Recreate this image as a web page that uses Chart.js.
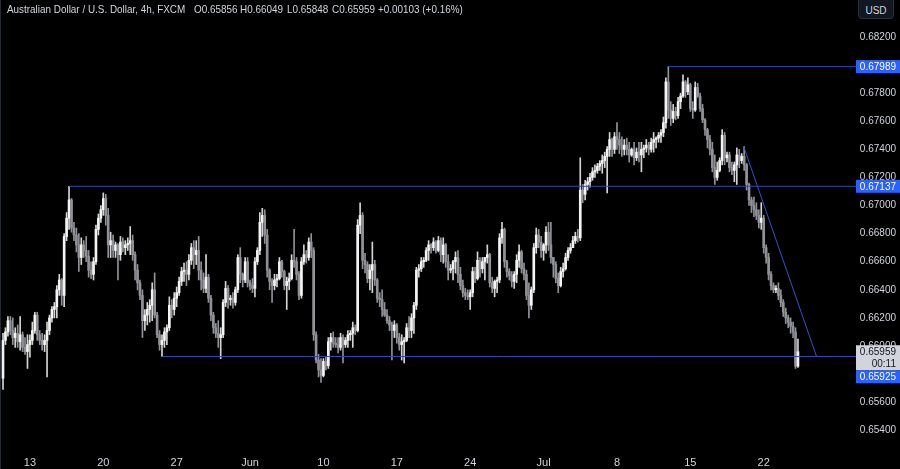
<!DOCTYPE html>
<html>
<head>
<meta charset="utf-8">
<script src="https://cdn.jsdelivr.net/npm/chart.js@4.4.1/dist/chart.umd.min.js"></script>
<style>
  html, body { margin: 0; padding: 0; background: #000; }
  #wrap { position: relative; width: 900px; height: 469px; overflow: hidden; background: #000; }
  #chart { position: absolute; left: 0; top: 0; }
  .hdr { position: absolute; top: 3px; font: 11px 'Liberation Sans', Arial, sans-serif; color: #d1d4dc;
         white-space: nowrap; transform-origin: 0 0; transform: scaleX(0.9); }
  #usd { position: absolute; left: 858px; top: -4px; width: 36px; height: 23px; box-sizing: border-box;
         border: 1px solid #2a2e39; border-radius: 4px; background: #131722; color: #d1d4dc;
         font: 10px 'Liberation Sans', Arial, sans-serif; text-align: center; line-height: 27px; }
  #edge { position: absolute; left: 0; top: 0; width: 1px; height: 469px; background: #262a33; }
</style>
</head>
<body>
<div id="wrap">
  <canvas id="chart" width="900" height="469"></canvas>
  <div id="edge"></div>
  <div class="hdr" style="left:7px">Australian Dollar / U.S. Dollar, 4h, FXCM</div>
  <div class="hdr" style="left:194px">O0.65856</div>
  <div class="hdr" style="left:240px">H0.66049</div>
  <div class="hdr" style="left:287px">L0.65848</div>
  <div class="hdr" style="left:332px">C0.65959</div>
  <div class="hdr" style="left:378px">+0.00103 (+0.16%)</div>
  <div id="usd">USD</div>
</div>
<script>
// AUD/USD 4h candles, index 0 = first visible bar (May 9)
const opens = [
  0.6577,0.6604,0.6610,0.6618,0.6611,0.6606,0.6609,0.6603,0.6608,0.6599,
  0.6596,0.6601,0.6604,0.6611,0.6622,0.6608,0.6604,0.6601,0.6604,0.6611,
  0.6620,0.6626,0.6628,0.6640,0.6647,0.6636,0.6678,0.6691,0.6704,0.6684,
  0.6679,0.6672,0.6663,0.6672,0.6668,0.6664,0.6654,0.6651,0.6660,0.6683,
  0.6691,0.6697,0.6705,0.6693,0.6672,0.6675,0.6668,0.6672,0.6665,0.6674,
  0.6670,0.6672,0.6673,0.6675,0.6665,0.6654,0.6645,0.6636,0.6618,0.6622,
  0.6626,0.6629,0.6640,0.6622,0.6608,0.6601,0.6604,0.6610,0.6613,0.6629,
  0.6626,0.6634,0.6638,0.6646,0.6653,0.6654,0.6651,0.6661,0.6670,0.6665,
  0.6668,0.6654,0.6647,0.6641,0.6649,0.6634,0.6622,0.6613,0.6609,0.6606,
  0.6608,0.6631,0.6641,0.6633,0.6634,0.6631,0.6640,0.6663,0.6651,0.6647,
  0.6660,0.6645,0.6643,0.6641,0.6660,0.6668,0.6688,0.6693,0.6679,0.6654,
  0.6646,0.6643,0.6647,0.6648,0.6660,0.6653,0.6643,0.6646,0.6648,0.6661,
  0.6660,0.6651,0.6636,0.6660,0.6665,0.6663,0.6674,0.6668,0.6608,0.6590,
  0.6583,0.6579,0.6589,0.6586,0.6603,0.6606,0.6602,0.6601,0.6599,0.6606,
  0.6601,0.6604,0.6608,0.6609,0.6613,0.6611,0.6686,0.6693,0.6661,0.6658,
  0.6648,0.6654,0.6658,0.6647,0.6634,0.6633,0.6626,0.6622,0.6618,0.6615,
  0.6611,0.6615,0.6606,0.6601,0.6603,0.6604,0.6613,0.6611,0.6620,0.6629,
  0.6654,0.6655,0.6660,0.6661,0.6668,0.6672,0.6670,0.6674,0.6668,0.6675,
  0.6665,0.6672,0.6660,0.6654,0.6655,0.6660,0.6663,0.6651,0.6643,0.6638,
  0.6636,0.6635,0.6638,0.6653,0.6648,0.6661,0.6655,0.6660,0.6663,0.6665,
  0.6645,0.6641,0.6646,0.6647,0.6677,0.6683,0.6660,0.6653,0.6650,0.6646,
  0.6651,0.6661,0.6667,0.6655,0.6651,0.6636,0.6629,0.6640,0.6670,0.6679,
  0.6674,0.6668,0.6672,0.6681,0.6672,0.6663,0.6658,0.6648,0.6643,0.6653,
  0.6655,0.6663,0.6668,0.6670,0.6675,0.6678,0.6677,0.6711,0.6708,0.6715,
  0.6717,0.6720,0.6724,0.6725,0.6728,0.6730,0.6732,0.6735,0.6740,0.6747,
  0.6740,0.6749,0.6747,0.6743,0.6740,0.6743,0.6740,0.6736,0.6740,0.6734,
  0.6738,0.6736,0.6740,0.6741,0.6743,0.6740,0.6745,0.6747,0.6748,0.6750,
  0.6752,0.6759,0.6788,0.6768,0.6762,0.6767,0.6764,0.6774,0.6778,0.6788,
  0.6781,0.6786,0.6769,0.6768,0.6784,0.6778,0.6769,0.6761,0.6754,0.6747,
  0.6740,0.6727,0.6720,0.6725,0.6732,0.6750,0.6734,0.6736,0.6727,0.6725,
  0.6729,0.6736,0.6732,0.6735,0.6729,0.6715,0.6704,0.6700,0.6697,0.6693,
  0.6688,0.6691,0.6670,0.6663,0.6651,0.6643,0.6640,0.6641,0.6636,0.6631,
  0.6624,0.6620,0.6617,0.6614,0.6610,0.65856
];
const highs = [
  0.6609,0.6613,0.6621,0.6621,0.6620,0.6613,0.6615,0.6621,0.6610,0.6606,
  0.6608,0.6608,0.6617,0.6624,0.6624,0.6611,0.6609,0.6608,0.6617,0.6622,
  0.6628,0.6631,0.6643,0.6651,0.6648,0.6680,0.6695,0.67137,0.6705,0.6688,
  0.6684,0.6680,0.6677,0.6675,0.6678,0.6668,0.6660,0.6663,0.6686,0.6694,
  0.6700,0.6709,0.6708,0.6698,0.6681,0.6679,0.6674,0.6673,0.6678,0.6677,
  0.6675,0.6677,0.6685,0.6679,0.6667,0.6658,0.6647,0.6640,0.6626,0.6631,
  0.6633,0.6645,0.6652,0.6624,0.6611,0.6608,0.6613,0.6615,0.6635,0.6633,
  0.6638,0.6642,0.6649,0.6656,0.6659,0.6660,0.6665,0.6673,0.6675,0.6675,
  0.6678,0.6660,0.6652,0.6665,0.6651,0.6636,0.6624,0.6616,0.6618,0.6613,
  0.6633,0.6646,0.6643,0.6636,0.6638,0.6642,0.6665,0.6670,0.6652,0.6663,
  0.6663,0.6647,0.6648,0.6663,0.6670,0.6695,0.6698,0.6697,0.6683,0.6655,
  0.6648,0.6651,0.6651,0.6663,0.6661,0.6654,0.6649,0.6652,0.6665,0.6683,
  0.6663,0.6653,0.6663,0.6672,0.6668,0.6677,0.6680,0.6670,0.6610,0.6594,
  0.6591,0.6591,0.6592,0.6606,0.6609,0.6610,0.6606,0.6606,0.6609,0.6608,
  0.6606,0.6611,0.6611,0.6617,0.6615,0.6690,0.6702,0.6695,0.6666,0.6660,
  0.6658,0.6674,0.6661,0.6648,0.6638,0.6640,0.6631,0.6626,0.6621,0.6617,
  0.6618,0.6616,0.6609,0.6608,0.6606,0.6616,0.6621,0.6623,0.6631,0.6656,
  0.6658,0.6663,0.6663,0.6670,0.6675,0.6673,0.6677,0.6675,0.6678,0.6677,
  0.6677,0.6673,0.6665,0.6658,0.6661,0.6667,0.6668,0.6656,0.6647,0.6641,
  0.6640,0.6640,0.6656,0.6656,0.6667,0.6663,0.6663,0.6663,0.6672,0.6666,
  0.6649,0.6647,0.6649,0.6680,0.6688,0.6684,0.6661,0.6655,0.6653,0.6653,
  0.6665,0.6672,0.6668,0.6659,0.6654,0.6645,0.6642,0.6673,0.6684,0.6683,
  0.6678,0.6673,0.6685,0.6688,0.6688,0.6663,0.6660,0.6652,0.6656,0.6659,
  0.6666,0.6670,0.6673,0.6678,0.6681,0.6683,0.6734,0.6715,0.6718,0.6720,
  0.6723,0.6727,0.6729,0.6730,0.6732,0.6736,0.6738,0.6742,0.6752,0.6748,
  0.6752,0.6759,0.6752,0.6749,0.6747,0.6748,0.6745,0.6741,0.6745,0.6741,
  0.6745,0.6745,0.6743,0.6747,0.6745,0.6748,0.6752,0.6749,0.6752,0.6754,
  0.6763,0.6791,0.67989,0.6774,0.6772,0.6770,0.6777,0.6780,0.6793,0.6789,
  0.6791,0.6787,0.6774,0.6788,0.6787,0.6780,0.6772,0.6762,0.6755,0.6750,
  0.6745,0.6736,0.6731,0.6734,0.6754,0.6752,0.6738,0.6738,0.6731,0.6731,
  0.6741,0.6740,0.6737,0.6742,0.6730,0.6716,0.6706,0.6706,0.6702,0.6697,
  0.6702,0.6693,0.6672,0.6666,0.6653,0.6645,0.6643,0.6645,0.6640,0.6633,
  0.6627,0.6622,0.6620,0.6617,0.6613,0.66049
];
const lows = [
  0.6569,0.6601,0.6607,0.6608,0.6601,0.6599,0.6599,0.6597,0.6596,0.6594,
  0.6584,0.6592,0.6601,0.6609,0.6604,0.6601,0.6597,0.6596,0.6578,0.6608,
  0.6617,0.6620,0.6620,0.6636,0.6629,0.6628,0.6675,0.6683,0.6681,0.6675,
  0.6667,0.6653,0.6658,0.6663,0.6660,0.6649,0.6648,0.6647,0.6658,0.6679,
  0.6688,0.6693,0.6686,0.6663,0.6663,0.6663,0.6663,0.6647,0.6661,0.6667,
  0.6665,0.6668,0.6665,0.6661,0.6647,0.6640,0.6633,0.6606,0.6611,0.6615,
  0.6617,0.6618,0.6620,0.6606,0.6597,0.65925,0.6599,0.6601,0.6611,0.6620,
  0.6622,0.6628,0.6636,0.6643,0.6646,0.6643,0.6647,0.6658,0.6655,0.6658,
  0.6647,0.6640,0.6638,0.6638,0.6631,0.6618,0.6609,0.6606,0.6599,0.6591,
  0.6606,0.6628,0.6627,0.6629,0.6627,0.6629,0.6638,0.6645,0.6642,0.6645,
  0.6642,0.6640,0.6638,0.6635,0.6658,0.6665,0.6678,0.6673,0.6649,0.6640,
  0.6631,0.6640,0.6642,0.6647,0.6649,0.6640,0.6626,0.6640,0.6647,0.6656,
  0.6647,0.6633,0.6634,0.6658,0.6659,0.6661,0.6663,0.6604,0.6588,0.6578,
  0.6574,0.6578,0.6583,0.6584,0.6597,0.6599,0.6599,0.6595,0.6597,0.6588,
  0.6599,0.6599,0.6604,0.6599,0.6608,0.6610,0.6680,0.6655,0.6652,0.6645,
  0.6640,0.6638,0.6643,0.6631,0.6628,0.6621,0.6621,0.6616,0.6611,0.6590,
  0.6606,0.6602,0.6597,0.6590,0.6588,0.6603,0.6606,0.6606,0.6609,0.6626,
  0.6649,0.6653,0.6656,0.6660,0.6661,0.6666,0.6668,0.6666,0.6667,0.6660,
  0.6659,0.6656,0.6647,0.6652,0.6647,0.6652,0.6645,0.6640,0.6635,0.6633,
  0.6633,0.6626,0.6635,0.6645,0.6647,0.6649,0.6652,0.6647,0.6659,0.6642,
  0.6638,0.6635,0.6638,0.6645,0.6673,0.6656,0.6649,0.6647,0.6642,0.6641,
  0.6645,0.6656,0.6652,0.6647,0.6633,0.6620,0.6626,0.6638,0.6666,0.6670,
  0.6663,0.6661,0.6666,0.6668,0.6659,0.6649,0.6645,0.6638,0.6642,0.6649,
  0.6654,0.6661,0.6666,0.6670,0.6673,0.6674,0.6675,0.6702,0.6704,0.6711,
  0.6713,0.6718,0.6720,0.6723,0.6725,0.6723,0.6727,0.6709,0.6735,0.6735,
  0.6737,0.6740,0.6737,0.6735,0.6736,0.6736,0.6731,0.6735,0.6729,0.6732,
  0.6731,0.6724,0.6734,0.6738,0.6736,0.6738,0.6738,0.6741,0.6745,0.6745,
  0.6749,0.6755,0.6762,0.6757,0.6759,0.6761,0.6762,0.6769,0.6777,0.6777,
  0.6779,0.6767,0.6762,0.6767,0.6777,0.6767,0.6759,0.6750,0.6741,0.6736,
  0.6724,0.6715,0.6718,0.6724,0.6729,0.6729,0.6731,0.6724,0.6722,0.6717,
  0.6715,0.6727,0.6730,0.6725,0.6711,0.6700,0.6695,0.6692,0.6690,0.6684,
  0.6683,0.6666,0.6659,0.6647,0.6640,0.6638,0.6638,0.6633,0.6628,0.6621,
  0.6616,0.6613,0.6609,0.6606,0.6584,0.65848
];
const closes = [
  0.6604,0.6610,0.6618,0.6611,0.6606,0.6609,0.6603,0.6608,0.6599,0.6596,
  0.6601,0.6604,0.6611,0.6622,0.6608,0.6604,0.6601,0.6604,0.6611,0.6620,
  0.6626,0.6628,0.6640,0.6647,0.6636,0.6678,0.6691,0.6704,0.6684,0.6679,
  0.6672,0.6663,0.6672,0.6668,0.6664,0.6654,0.6651,0.6660,0.6683,0.6691,
  0.6697,0.6705,0.6693,0.6672,0.6675,0.6668,0.6672,0.6665,0.6674,0.6670,
  0.6672,0.6673,0.6675,0.6665,0.6654,0.6645,0.6636,0.6618,0.6622,0.6626,
  0.6629,0.6640,0.6622,0.6608,0.6601,0.6604,0.6610,0.6613,0.6629,0.6626,
  0.6634,0.6638,0.6646,0.6653,0.6654,0.6651,0.6661,0.6670,0.6665,0.6668,
  0.6654,0.6647,0.6641,0.6649,0.6634,0.6622,0.6613,0.6609,0.6606,0.6608,
  0.6631,0.6641,0.6633,0.6634,0.6631,0.6640,0.6663,0.6651,0.6647,0.6660,
  0.6645,0.6643,0.6641,0.6660,0.6668,0.6688,0.6693,0.6679,0.6654,0.6646,
  0.6643,0.6647,0.6648,0.6660,0.6653,0.6643,0.6646,0.6648,0.6661,0.6660,
  0.6651,0.6636,0.6660,0.6665,0.6663,0.6674,0.6668,0.6608,0.6590,0.6583,
  0.6579,0.6589,0.6586,0.6603,0.6606,0.6602,0.6601,0.6599,0.6606,0.6601,
  0.6604,0.6608,0.6609,0.6613,0.6611,0.6686,0.6693,0.6661,0.6658,0.6648,
  0.6654,0.6658,0.6647,0.6634,0.6633,0.6626,0.6622,0.6618,0.6615,0.6611,
  0.6615,0.6606,0.6601,0.6603,0.6604,0.6613,0.6611,0.6620,0.6629,0.6654,
  0.6655,0.6660,0.6661,0.6668,0.6672,0.6670,0.6674,0.6668,0.6675,0.6665,
  0.6672,0.6660,0.6654,0.6655,0.6660,0.6663,0.6651,0.6643,0.6638,0.6636,
  0.6635,0.6638,0.6653,0.6648,0.6661,0.6655,0.6660,0.6663,0.6665,0.6645,
  0.6641,0.6646,0.6647,0.6677,0.6683,0.6660,0.6653,0.6650,0.6646,0.6651,
  0.6661,0.6667,0.6655,0.6651,0.6636,0.6629,0.6640,0.6670,0.6679,0.6674,
  0.6668,0.6672,0.6681,0.6672,0.6663,0.6658,0.6648,0.6643,0.6653,0.6655,
  0.6663,0.6668,0.6670,0.6675,0.6678,0.6677,0.6711,0.6708,0.6715,0.6717,
  0.6720,0.6724,0.6725,0.6728,0.6730,0.6732,0.6735,0.6740,0.6747,0.6740,
  0.6749,0.6747,0.6743,0.6740,0.6743,0.6740,0.6736,0.6740,0.6734,0.6738,
  0.6736,0.6740,0.6741,0.6743,0.6740,0.6745,0.6747,0.6748,0.6750,0.6752,
  0.6759,0.6788,0.6768,0.6762,0.6767,0.6764,0.6774,0.6778,0.6788,0.6781,
  0.6786,0.6769,0.6768,0.6784,0.6778,0.6769,0.6761,0.6754,0.6747,0.6740,
  0.6727,0.6720,0.6725,0.6732,0.6750,0.6734,0.6736,0.6727,0.6725,0.6729,
  0.6736,0.6732,0.6735,0.6729,0.6715,0.6704,0.6700,0.6697,0.6693,0.6688,
  0.6691,0.6670,0.6663,0.6651,0.6643,0.6640,0.6641,0.6636,0.6631,0.6624,
  0.6620,0.6617,0.6614,0.6610,0.65856,0.65959
];

// time axis: bar index of each week start and its label
const tickIdx    = [11, 41, 71, 101, 131, 161, 191, 221, 251, 281, 311];
const tickLabels = ['13', '20', '27', 'Jun', '10', '17', '24', 'Jul', '8', '15', '22'];
const priceTicks = [0.654, 0.656, 0.658, 0.660, 0.662, 0.664, 0.666, 0.668,
                    0.670, 0.672, 0.674, 0.676, 0.678, 0.680, 0.682];

// drawn levels: start bar and price
const levelStart = [27, 65, 272];
const levelPrice = [0.67137, 0.65925, 0.67989];
// falling trendline: two anchor points (bar, price)
const trendBars   = [302.8, 332.6];
const trendPrices = [0.6742, 0.65925];

const X_MIN = -1.23, X_MAX = 338.1;
const LEVEL_COLOR = '#3646b4';
const TAG_BLUE = '#2962ff';

const isUp = i => closes[i] >= opens[i];

const wickData = opens.map((_, i) => ({ x: i, y: [lows[i], highs[i]] }));
const bodyData = opens.map((o, i) => ({ x: i, y: [o, closes[i]] }));

const levelSets = levelPrice.map((p, k) => ({
  type: 'line',
  data: [{ x: levelStart[k], y: p }, { x: X_MAX + 5, y: p }],
  borderColor: LEVEL_COLOR,
  borderWidth: 1,
  pointRadius: 0,
  order: 0,
}));

const trendSet = {
  type: 'line',
  data: trendBars.map((b, k) => ({ x: b, y: trendPrices[k] })),
  borderColor: '#3d4fc0',
  borderWidth: 1,
  pointRadius: 0,
  order: 0,
};

// price tags on the right axis, drawn over the tick labels
const priceTags = {
  id: 'priceTags',
  afterDraw(chart) {
    const { ctx, chartArea, scales } = chart;
    const y = scales.y;
    ctx.save();
    // level lines continue through the axis gap up to their tag
    ctx.strokeStyle = LEVEL_COLOR;
    ctx.lineWidth = 1;
    levelPrice.forEach(p => {
      const py = y.getPixelForValue(p);
      ctx.beginPath();
      ctx.moveTo(chartArea.right, py);
      ctx.lineTo(856, py);
      ctx.stroke();
    });

    const last = closes[closes.length - 1];
    const tags = [
      { v: 0.67989, bg: TAG_BLUE, fg: '#ffffff', lines: ['0.67989'] },
      { v: 0.67137, bg: TAG_BLUE, fg: '#ffffff', lines: ['0.67137'] },
      { v: last,    bg: '#d1d4dc', fg: '#131722', lines: [last.toFixed(5), '00:11'] },
      { v: 0.65925, bg: TAG_BLUE, fg: '#ffffff', lines: ['0.65925'] },
    ];
    ctx.font = "10px 'Liberation Sans', Arial, sans-serif";
    ctx.textAlign = 'right';
    ctx.textBaseline = 'middle';
    let prevBottom = -Infinity;
    tags.forEach(t => {
      const h = 13 + (t.lines.length - 1) * 12;
      let top = y.getPixelForValue(t.v) - 6.5;
      if (top < prevBottom) top = prevBottom;
      ctx.fillStyle = t.bg;
      ctx.fillRect(856, top, 44, h);
      ctx.fillStyle = t.fg;
      t.lines.forEach((s, k) => ctx.fillText(s, 896, top + 7 + k * 12));
      prevBottom = top + h;
    });
    ctx.restore();
  },
};

new Chart(document.getElementById('chart'), {
  type: 'bar',
  data: {
    datasets: [
      ...levelSets,
      trendSet,
      {
        data: bodyData,
        backgroundColor: c => isUp(c.dataIndex) ? '#f4f4f4' : '#909298',
        barThickness: 2,
        minBarLength: 1,
        grouped: false,
        order: 1,
      },
      {
        data: wickData,
        backgroundColor: c => isUp(c.dataIndex) ? '#d4d4d4' : '#909298',
        barThickness: 1,
        grouped: false,
        order: 2,
      },
    ],
  },
  options: {
    responsive: false,
    animation: false,
    events: [],
    layout: { padding: { left: 0, right: 4, top: 0, bottom: 0 } },
    plugins: { legend: { display: false }, tooltip: { enabled: false } },
    scales: {
      x: {
        type: 'linear',
        min: X_MIN,
        max: X_MAX,
        offset: false,
        grid: { display: false, drawTicks: false },
        border: { display: false },
        afterBuildTicks: s => { s.ticks = tickIdx.map(v => ({ value: v })); },
        afterFit: s => { s.height = 24; s.paddingLeft = 0; s.paddingRight = 0; },
        ticks: {
          autoSkip: false,
          maxRotation: 0,
          padding: 11,
          color: '#d1d4dc',
          font: { family: "'Liberation Sans', Arial, sans-serif", size: 11 },
          callback: (v, i) => tickLabels[i],
        },
      },
      y: {
        position: 'right',
        min: 0.65295,
        max: 0.684634,
        grid: { display: false, drawTicks: false },
        border: { display: false },
        afterBuildTicks: s => { s.ticks = priceTicks.map(v => ({ value: v })); },
        afterFit: s => { s.width = 66; s.paddingTop = 0; s.paddingBottom = 0; },
        ticks: {
          crossAlign: 'far',
          color: '#d1d4dc',
          font: { family: "'Liberation Sans', Arial, sans-serif", size: 10 },
          callback: v => v.toFixed(5),
        },
      },
    },
  },
  plugins: [priceTags],
});
</script>
</body>
</html>
